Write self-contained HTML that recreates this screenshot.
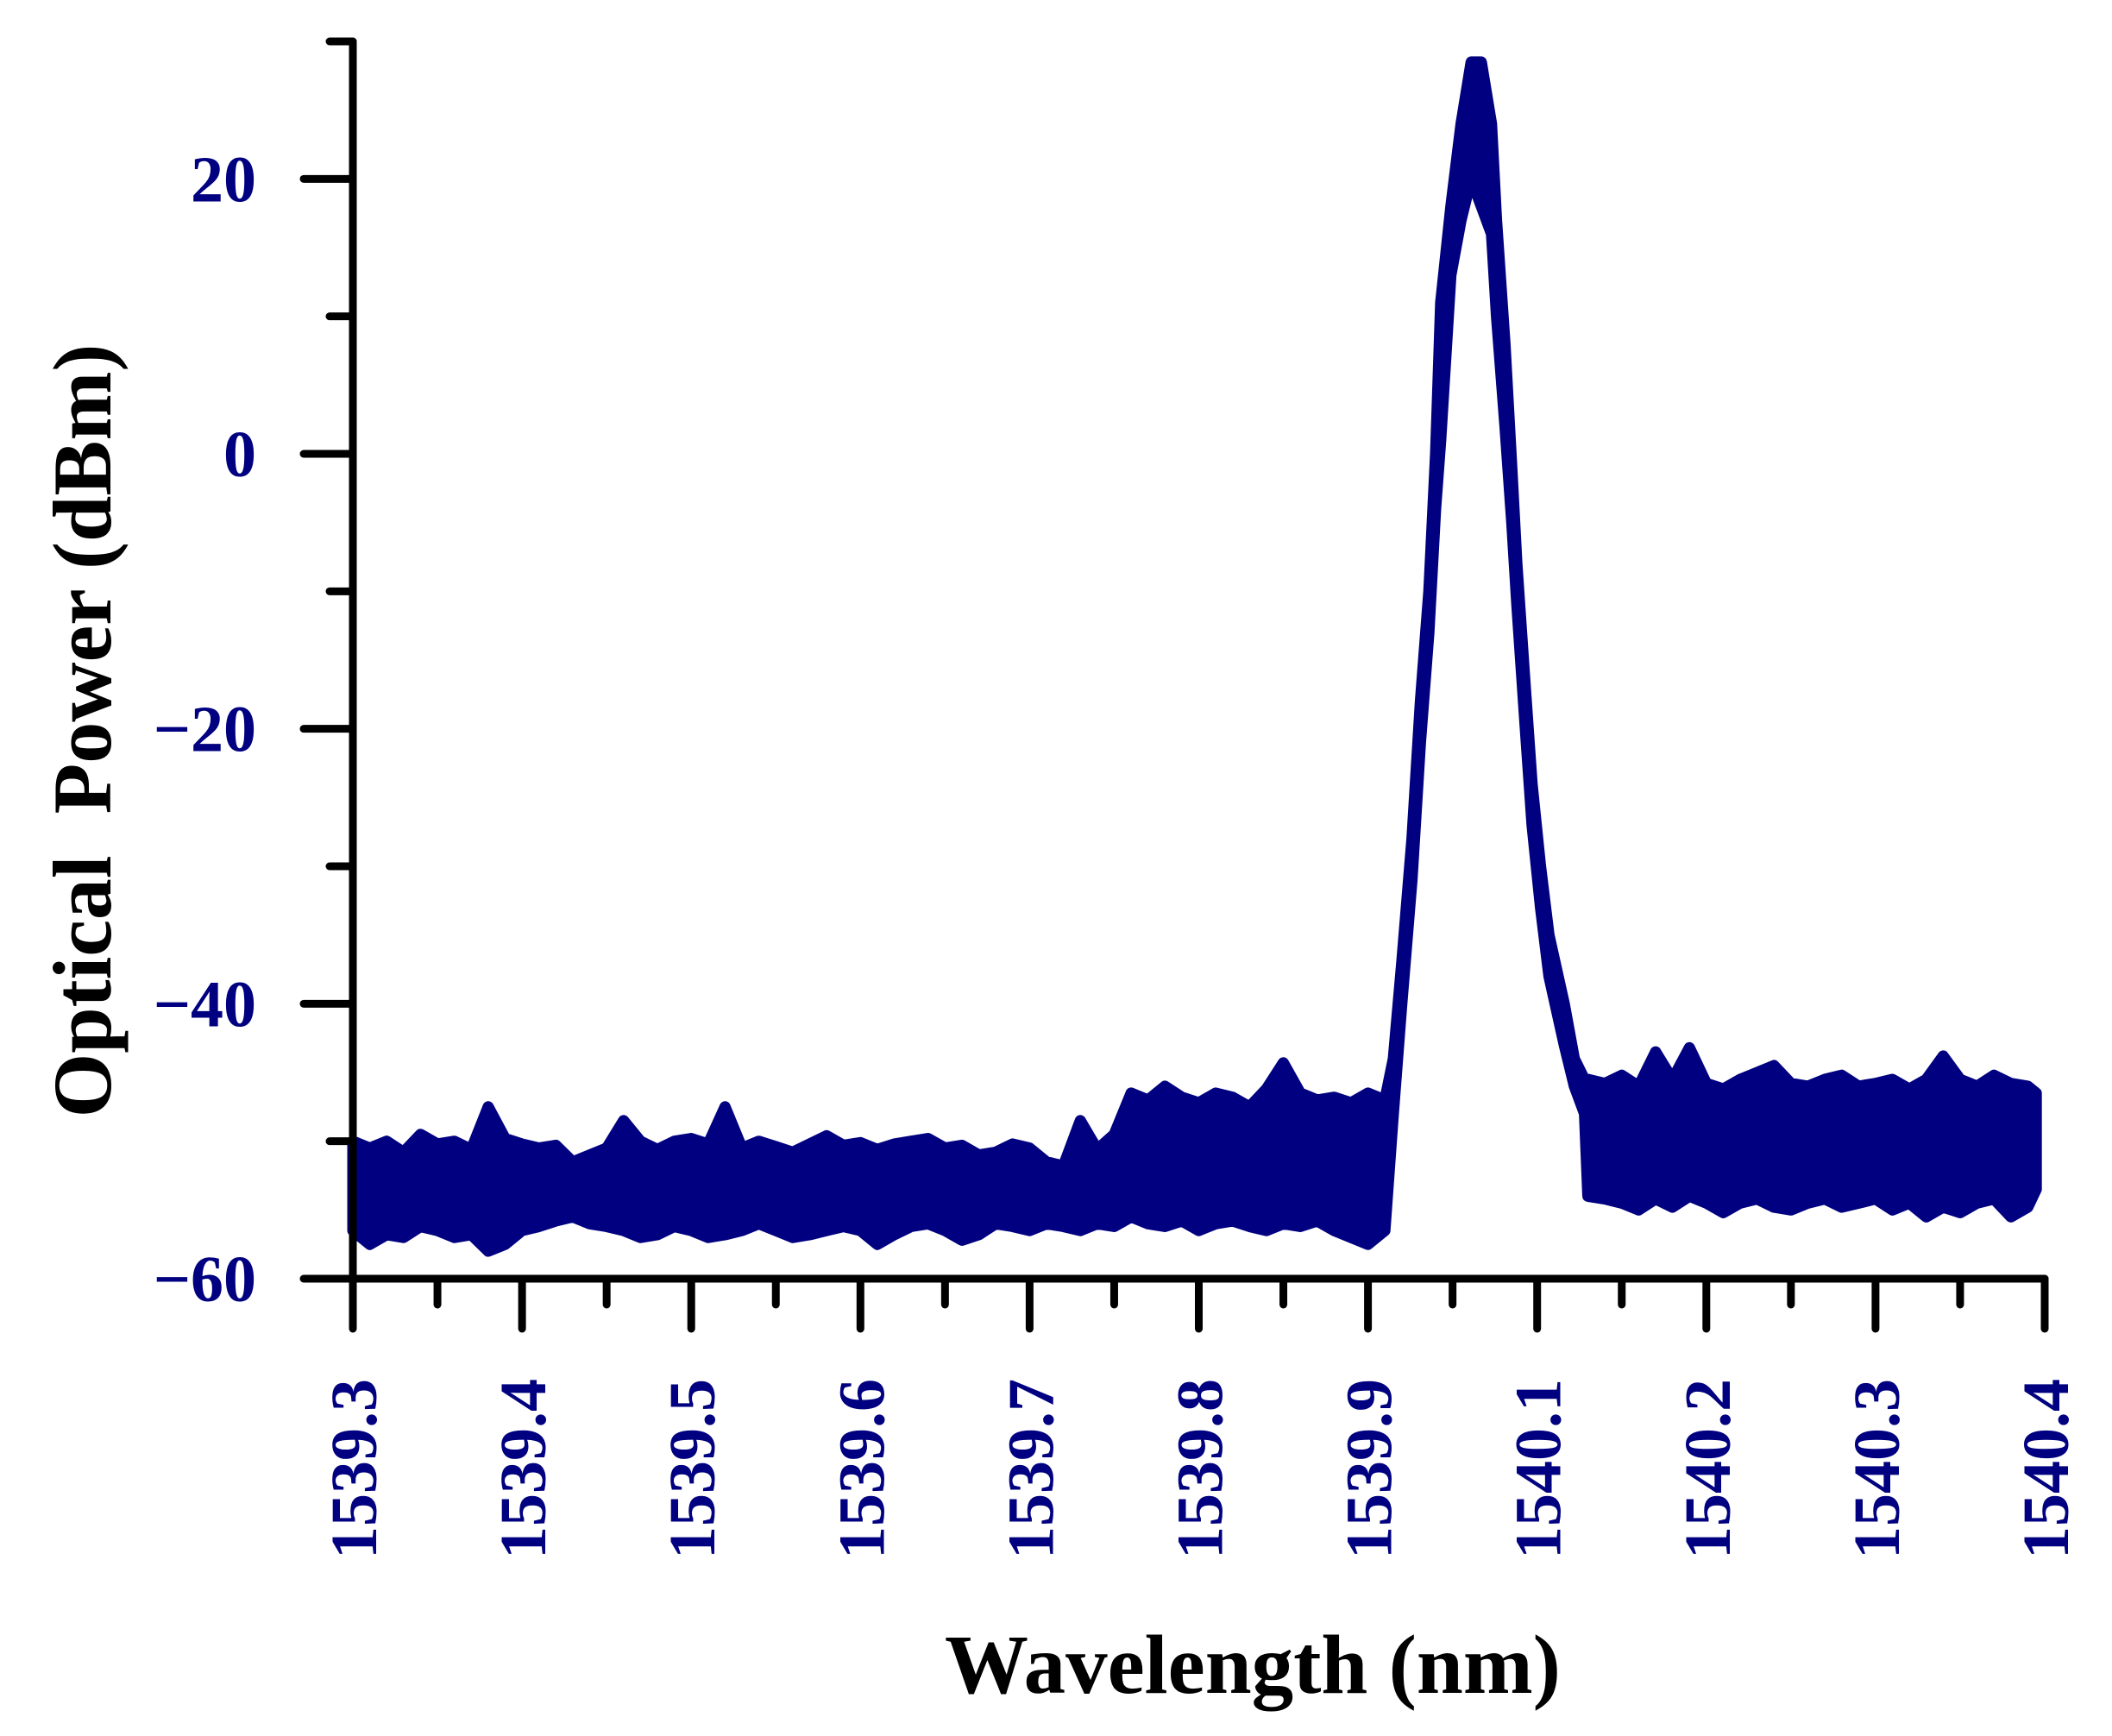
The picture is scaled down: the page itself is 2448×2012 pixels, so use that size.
<!DOCTYPE html>
<html><head><meta charset="utf-8">
<style>
html,body{margin:0;padding:0;background:#fff;}
svg{display:block;}
text{font-family:"Liberation Serif",serif;font-weight:bold;}
</style></head>
<body>
<svg id="chart" xmlns="http://www.w3.org/2000/svg" width="2448" height="2012" viewBox="0 0 2448 2012">
  <g id="plot"></g>
  <g id="axes"></g>
  <text x="0" y="0" font-size="96" fill="#000" text-anchor="middle" transform="translate(128,847) rotate(-90)" xml:space="preserve">Optical  Power (dBm)</text>
  <text x="1452" y="1962" font-size="97" fill="#000" text-anchor="middle">Wavelength (nm)</text>
</svg>
<script>
const wavelengths = [
1539.30,1539.31,1539.32,1539.33,1539.34,1539.35,1539.36,1539.37,1539.38,1539.39,
1539.40,1539.41,1539.42,1539.43,1539.44,1539.45,1539.46,1539.47,1539.48,1539.49,
1539.50,1539.51,1539.52,1539.53,1539.54,1539.55,1539.56,1539.57,1539.58,1539.59,
1539.60,1539.61,1539.62,1539.63,1539.64,1539.65,1539.66,1539.67,1539.68,1539.69,
1539.70,1539.71,1539.72,1539.73,1539.74,1539.75,
1539.76,1539.77,1539.78,1539.79,1539.80,1539.81,1539.82,1539.83,1539.84,1539.85,
1539.86,1539.87,1539.88,1539.89,1539.90,1539.91,
1539.915,1539.920,1539.926,1539.931,1539.936,1539.940,1539.943,1539.949,1539.955,1539.961,
1539.967,1539.973,1539.976,1539.981,1539.985,1539.988,1539.993,1539.997,1540.002,1540.007,
1540.016,1540.022,1540.028,
1540.03,1540.04,1540.05,1540.06,1540.07,1540.08,1540.09,1540.10,1540.11,1540.12,
1540.13,1540.14,1540.15,1540.16,1540.17,1540.18,1540.19,1540.20,1540.21,1540.22,
1540.23,1540.24,1540.25,1540.26,1540.27,1540.28,1540.29,1540.295];
const upperPower = [
-50,-50.5,-50,-50.8,-49.5,-50.2,-50,-50.6,-47.5,-49.8,
-50.2,-50.5,-50.3,-51.5,-51,-50.5,-48.5,-50,-50.6,-50,
-49.8,-50.2,-47.5,-50.5,-50,-50.4,-50.8,-50.2,-49.6,-50.3,
-50.1,-50.6,-50.2,-50,-49.8,-50.5,-50.3,-51,-50.8,-50.2,
-50.5,-51.5,-51.8,-48.5,-50.6,-49.5,
-46.5,-47,-46,-46.8,-47.2,-46.5,-46.8,-47.5,-46.2,-44.3,
-46.5,-47,-46.8,-47.2,-46.5,-47,
-44,-37,-28,-18,-10,0,11,18,24,28.5,
28.5,24,17,8,-1,-8,-17,-24,-30,-35,
-40,-44,-45.5,
-45.5,-45.8,-45.2,-46,-43.5,-45.5,-43.2,-45.8,-46.2,-45.5,
-45,-44.5,-45.8,-46,-45.5,-45.2,-46,-45.8,-45.5,-46.2,
-45.5,-43.8,-45.5,-46,-45.2,-45.8,-46,-46.5];
const lowerPower = [
-56.5,-57.5,-56.8,-57,-56.2,-56.5,-57,-56.8,-58,-57.5,
-56.5,-56.2,-55.8,-55.5,-56,-56.2,-56.5,-57,-56.8,-56.2,
-56.5,-57,-56.8,-56.5,-56,-56.5,-57,-56.8,-56.5,-56.2,
-56.5,-57.5,-56.8,-56.2,-56,-56.5,-57.2,-56.8,-56,-56.2,
-56.5,-56,-56.2,-56.5,-56,-56.2,
-55.5,-56,-56.2,-55.8,-56.5,-56,-55.8,-56.2,-56.5,-56,
-56.2,-55.8,-56.5,-57,-57.5,-56.5,
-48,-40,-31,-21,-13,-4,1,13,17,20,
18,16,10,2,-5,-11,-20,-27,-33,-38,
-43,-46,-48,
-54,-54.2,-54.5,-55,-54.2,-54.8,-54,-54.5,-55.2,-54.5,
-54.2,-54.8,-55,-54.5,-54.2,-54.8,-54.5,-54.2,-55,-54.5,
-55.5,-54.8,-55.2,-54.5,-54.2,-55.5,-54.8,-53.5];
const xTickValues = [1539.3,1539.4,1539.5,1539.6,1539.7,1539.8,1539.9,1540.0,1540.1,1540.2,1540.3];
const xTickLabels = ["1539.3","1539.4","1539.5","1539.6","1539.7","1539.8","1539.9","1540.1","1540.2","1540.3","1540.4"];
const yTickValues = [-60,-40,-20,0,20];
const yTickLabels = ["\u221260","\u221240","\u221220","0","20"];
const yMinorValues = [-50,-30,-10,10,30];

const NS = "http://www.w3.org/2000/svg";
const X0 = 409, X1 = 2370, Y0 = 1482, Y1 = 48;
const xMin = 1539.3, xMax = 1540.3, yMin = -60, yMax = 30;
function xs(v){ return X0 + (v - xMin) / (xMax - xMin) * (X1 - X0); }
function ys(v){ return Y0 - (v - yMin) / (yMax - yMin) * (Y0 - Y1); }
function mk(tag, attrs, parent){
  const e = document.createElementNS(NS, tag);
  for (const k in attrs) e.setAttribute(k, attrs[k]);
  parent.appendChild(e);
  return e;
}
const plot = document.getElementById('plot');
const axes = document.getElementById('axes');

const n = Math.min(wavelengths.length, upperPower.length, lowerPower.length);
let d = '';
for (let i = 0; i < n; i++) d += (i ? 'L' : 'M') + xs(wavelengths[i]).toFixed(1) + ',' + ys(upperPower[i]).toFixed(1);
for (let i = n - 1; i >= 0; i--) d += 'L' + xs(wavelengths[i]).toFixed(1) + ',' + ys(lowerPower[i]).toFixed(1);
d += 'Z';
const trace = mk('path', {d: d, fill: '#000080', stroke: '#000080', 'stroke-width': 13, 'stroke-linejoin': 'round'}, plot);



const yAxis = mk('line', {x1: X0, y1: Y1, x2: X0, y2: Y0 + 4, stroke: '#000', 'stroke-width': 9, 'stroke-linecap': 'round'}, axes);


const xAxis = mk('line', {x1: X0 - 4, y1: Y0, x2: X1, y2: Y0, stroke: '#000', 'stroke-width': 9, 'stroke-linecap': 'round'}, axes);



yTickValues.forEach((v, i) => {
  const y = ys(v);
  const t = mk('line', {x1: 352, y1: y, x2: X0, y2: y, stroke: '#000', 'stroke-width': 9, 'stroke-linecap': 'round'}, axes);
  
  
  const lb = mk('text', {x: 297, y: y + 26, 'font-size': 76, fill: '#000080', 'text-anchor': 'end'}, axes);
  lb.textContent = yTickLabels[i];
  
  
});
yMinorValues.forEach(v => {
  const y = ys(v);
  const t = mk('line', {x1: 382, y1: y, x2: X0, y2: y, stroke: '#000', 'stroke-width': 9, 'stroke-linecap': 'round'}, axes);
  
  
});

xTickValues.forEach((v, i) => {
  const x = xs(v);
  const t = mk('line', {x1: x, y1: Y0, x2: x, y2: 1540, stroke: '#000', 'stroke-width': 9, 'stroke-linecap': 'round'}, axes);
  
  
  const lb = mk('text', {x: 0, y: 0, 'font-size': 76, fill: '#000080', 'text-anchor': 'end', transform: 'translate(' + (x + 27) + ',1598) rotate(-90)'}, axes);
  lb.textContent = xTickLabels[i];
  
  
  if (i < xTickValues.length - 1) {
    const xm = xs((v + xTickValues[i + 1]) / 2);
    const m = mk('line', {x1: xm, y1: Y0, x2: xm, y2: 1512, stroke: '#000', 'stroke-width': 9, 'stroke-linecap': 'round'}, axes);
    
    
  }
});
</script>
</body></html>
